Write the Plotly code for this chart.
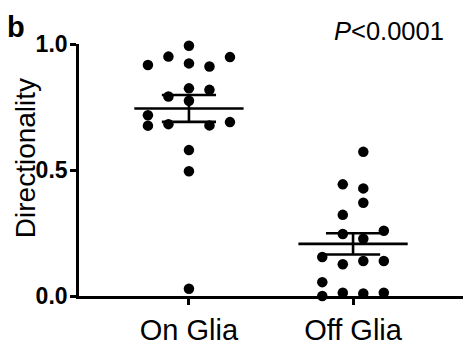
import numpy as np
import plotly.graph_objects as go

categories = ["On Glia", "Off Glia"]
on_glia = [0.993, 0.950, 0.948, 0.917, 0.923, 0.911, 0.824, 0.818, 0.792, 0.775,
           0.717, 0.676, 0.682, 0.677, 0.690, 0.579, 0.495, 0.029]
on_slot = [0, -1, 2, -2, 0, 1, 0, 1, -1, 0, -2, -2, -1, 1, 2, 0, 0, 0]
off_glia = [0.572, 0.443, 0.427, 0.370, 0.322, 0.246, 0.259, 0.227, 0.155, 0.126,
            0.139, 0.139, 0.055, 0.0, 0.013, 0.010, 0.013]
off_slot = [0.5, -0.5, 0.5, 0.5, -0.5, -0.5, 1.5, 0.5, -1.5, -0.5, 0.5, 1.5,
            -1.5, -1.5, -0.5, 0.5, 1.5]
y_ticks = [0.0, 0.5, 1.0]
y_ticktext = ["0.0", "0.5", "1.0"]

W, H = 463, 346
L, R, T, B = 79, 0, 44, 46
SLOT_W = 0.125
MEAN_HALF = 0.333
SEM_HALF = 0.165
LW = 2.6
FONT = "Liberation Sans, Arial, sans-serif"

fig = go.Figure()
groups = [(on_glia, on_slot), (off_glia, off_slot)]
for i, (vals, slots) in enumerate(groups):
    v = np.array(vals)
    xs = i + np.array(slots) * SLOT_W
    fig.add_trace(go.Scatter(x=xs, y=v, mode="markers",
                             marker=dict(color="black", size=10.5, line=dict(width=0)),
                             cliponaxis=False, showlegend=False, hoverinfo="y"))
    m = v.mean()
    sem = v.std(ddof=1) / np.sqrt(len(v))
    fig.add_trace(go.Scatter(x=[i - MEAN_HALF, i + MEAN_HALF], y=[m, m], mode="lines",
                             line=dict(color="black", width=LW), showlegend=False,
                             hoverinfo="skip"))
    xx = [i - SEM_HALF, i + SEM_HALF, None, i - SEM_HALF, i + SEM_HALF, None, i, i]
    yy = [m + sem, m + sem, None, m - sem, m - sem, None, m - sem, m + sem]
    fig.add_trace(go.Scatter(x=xx, y=yy, mode="lines",
                             line=dict(color="black", width=LW), showlegend=False,
                             hoverinfo="skip"))

pw = W - L - R
ph = H - T - B

def px_x(p):
    return (p - L) / pw

def px_y(p):
    return (H - B - p) / ph

fig.update_layout(
    width=W, height=H,
    margin=dict(l=L, r=R, t=T, b=B, pad=0),
    paper_bgcolor="white", plot_bgcolor="white",
    font=dict(family=FONT, color="black"),
    xaxis=dict(range=[-0.67, 1.67], tickvals=[0, 1], ticktext=categories,
               showgrid=False, zeroline=False, showline=True, linecolor="black",
               linewidth=LW, ticks="outside", ticklen=6, tickwidth=LW,
               tickcolor="black", tickfont=dict(size=29, family=FONT)),
    yaxis=dict(range=[0, 1], tickvals=y_ticks, ticktext=y_ticktext,
               showgrid=False, zeroline=False, showline=True, linecolor="black",
               linewidth=LW, ticks="outside", ticklen=6, tickwidth=LW,
               tickcolor="black", ticklabelstandoff=-2,
               tickfont=dict(size=23, family=FONT, weight="bold")),
    annotations=[
        dict(text="Directionality", textangle=-90, x=px_x(25), y=px_y(160),
             xref="paper", yref="paper", showarrow=False,
             font=dict(size=28, family=FONT), xanchor="center", yanchor="middle"),
        dict(text="<b>b</b>", x=px_x(5), y=px_y(8), xref="paper", yref="paper",
             showarrow=False, font=dict(size=29, family=FONT),
             xanchor="left", yanchor="top"),
        dict(text="<i>P</i><0.0001", x=px_x(388.5), y=px_y(31), xref="paper",
             yref="paper", showarrow=False, font=dict(size=25.5, family=FONT),
             xanchor="center", yanchor="middle"),
    ],
)

fig.write_html("out.html")
